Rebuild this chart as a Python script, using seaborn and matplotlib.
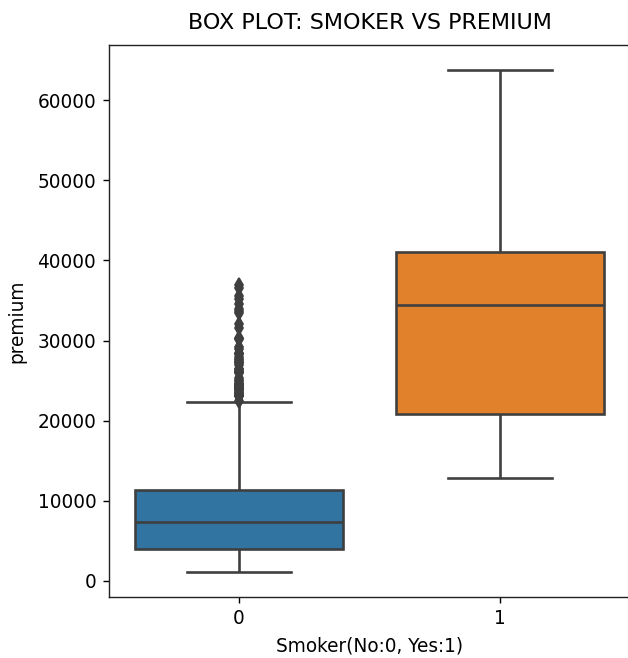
import numpy as np
import pandas as pd
import matplotlib
matplotlib.use("Agg")
import matplotlib.pyplot as plt
import seaborn as sns

# Premium values per smoker group, given as distinct values with their counts
smoker_labels = ["0", "1"]

# non-smokers: minimum, quartiles, upper whisker end, then the outliers
nonsmoker_box_values = [1121.87, 3986.44, 7345.41, 11362.89, 22395.74]
nonsmoker_box_counts = [1, 56, 56, 56, 1]
nonsmoker_outliers = [22493.66, 23045.57, 23065.42, 23082.96, 23241.47,
                      23288.93, 23306.55, 23401.31, 23563.02, 23807.24,
                      23887.66, 23967.38, 24059.68, 24106.91, 24180.93,
                      24227.34, 24393.62, 24476.48, 24513.09, 24535.70,
                      24671.66, 24915.05, 25081.77, 25333.33, 25992.82,
                      26018.95, 26140.36, 26236.58, 26392.26, 26467.10,
                      27000.98, 27218.44, 27346.04, 27375.90, 27533.91,
                      27724.29, 27941.29, 28287.90, 28340.19, 28476.73,
                      28923.14, 29141.36, 30166.62, 30259.99, 30284.64,
                      31620.00, 32108.66, 33471.97, 33750.29, 33907.55,
                      34617.84, 35160.13, 35585.58, 36580.28, 36910.61]

# smokers: minimum, quartiles, maximum
smoker_values = [12829.46, 20826.24, 34456.35, 41019.21, 63770.43]
smoker_counts = [1, 1, 1, 1, 1]

title = "BOX PLOT: SMOKER VS PREMIUM"
x_label = "Smoker(No:0, Yes:1)"
y_label = "premium"

group0 = np.concatenate([np.repeat(nonsmoker_box_values, nonsmoker_box_counts),
                         nonsmoker_outliers])
group1 = np.repeat(smoker_values, smoker_counts)
df = pd.DataFrame({
    "smoker": [smoker_labels[0]] * len(group0) + [smoker_labels[1]] * len(group1),
    "premium": np.concatenate([group0, group1]),
})

plt.rcParams["font.size"] = 10.6
plt.rcParams["axes.edgecolor"] = "#222222"

dpi = 126
fig = plt.figure(figsize=(628 / dpi, 658 / dpi), dpi=dpi)
ax = fig.add_axes([108.5 / 628, 61 / 658, 522 / 628, 552 / 658])

line_gray = "#3f3f3f"
sns.boxplot(data=df, x="smoker", y="premium", hue="smoker",
            order=smoker_labels, hue_order=smoker_labels,
            palette=["#1f77b4", "#ff7f0e"], legend=False,
            linewidth=1.5, linecolor=line_gray, width=0.8,
            flierprops={"marker": "d", "markersize": 6,
                        "markerfacecolor": line_gray,
                        "markeredgecolor": line_gray},
            ax=ax)

ax.set_title(title, pad=9)
ax.set_xlabel(x_label, labelpad=5)
ax.set_ylabel(y_label, labelpad=6)

fig.savefig("out.png", dpi=dpi)
